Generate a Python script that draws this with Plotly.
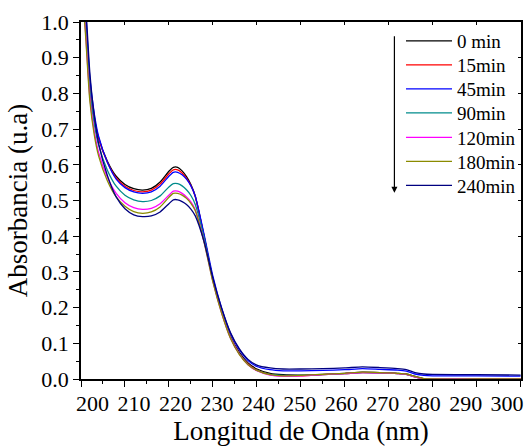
import plotly.graph_objects as go

wavelength = [200, 201, 202, 203, 204, 206, 208, 210, 212, 214, 216, 218, 220, 221, 222, 223, 224, 225, 226, 228,
              230, 232, 234, 236, 238, 240, 243, 246, 250, 255, 260, 264, 268, 272, 274, 276, 278, 280, 290, 300]

abs_0 = [1.15, 1.00, 0.82, 0.73, 0.675, 0.61, 0.568, 0.545, 0.533, 0.529, 0.534, 0.552, 0.582, 0.593, 0.593, 0.583, 0.567, 0.545, 0.512, 0.40,
         0.278, 0.19, 0.12, 0.075, 0.045, 0.028, 0.016, 0.012, 0.011, 0.013, 0.016, 0.019, 0.018, 0.016, 0.014, 0.007, 0.001, 0.0, 0.0, 0.0]
abs_15 = [1.17, 1.02, 0.83, 0.735, 0.675, 0.607, 0.563, 0.540, 0.528, 0.524, 0.529, 0.546, 0.575, 0.586, 0.586, 0.577, 0.562, 0.542, 0.511, 0.40,
          0.28, 0.19, 0.118, 0.072, 0.042, 0.025, 0.013, 0.009, 0.009, 0.012, 0.015, 0.018, 0.017, 0.015, 0.013, 0.006, 0.0, 0.0, 0.0, 0.0]
abs_45 = [1.19, 1.04, 0.845, 0.745, 0.68, 0.607, 0.56, 0.536, 0.524, 0.520, 0.524, 0.540, 0.568, 0.579, 0.579, 0.572, 0.560, 0.541, 0.512, 0.405,
          0.288, 0.198, 0.128, 0.082, 0.052, 0.035, 0.026, 0.023, 0.023, 0.024, 0.026, 0.029, 0.027, 0.025, 0.022, 0.014, 0.010, 0.009, 0.009, 0.008]
abs_90 = [1.16, 1.00, 0.81, 0.715, 0.655, 0.585, 0.54, 0.515, 0.502, 0.497, 0.500, 0.513, 0.538, 0.547, 0.547, 0.541, 0.530, 0.514, 0.489, 0.395,
          0.278, 0.188, 0.117, 0.071, 0.041, 0.024, 0.013, 0.010, 0.010, 0.012, 0.015, 0.018, 0.017, 0.015, 0.013, 0.006, 0.0, 0.0, 0.0, 0.0]
abs_120 = [1.14, 0.98, 0.79, 0.695, 0.635, 0.565, 0.52, 0.494, 0.480, 0.475, 0.478, 0.491, 0.515, 0.526, 0.526, 0.520, 0.510, 0.496, 0.474, 0.385,
           0.274, 0.185, 0.115, 0.070, 0.040, 0.023, 0.011, 0.008, 0.009, 0.012, 0.015, 0.018, 0.017, 0.015, 0.013, 0.006, 0.0, 0.0, 0.0, 0.0]
abs_180 = [1.13, 0.97, 0.78, 0.685, 0.625, 0.555, 0.51, 0.484, 0.469, 0.464, 0.468, 0.482, 0.509, 0.520, 0.520, 0.515, 0.506, 0.492, 0.471, 0.383,
           0.272, 0.184, 0.114, 0.069, 0.040, 0.024, 0.012, 0.009, 0.010, 0.013, 0.016, 0.019, 0.018, 0.016, 0.014, 0.007, 0.001, 0.0, 0.0, 0.0]
abs_240 = [1.20, 1.06, 0.86, 0.74, 0.66, 0.57, 0.51, 0.477, 0.460, 0.455, 0.457, 0.468, 0.491, 0.502, 0.502, 0.497, 0.489, 0.476, 0.457, 0.385,
           0.283, 0.198, 0.130, 0.085, 0.055, 0.039, 0.031, 0.028, 0.028, 0.029, 0.031, 0.034, 0.032, 0.029, 0.026, 0.018, 0.014, 0.013, 0.012, 0.011]

series_names = ["0 min", "15min", "45min", "90min", "120min", "180min", "240min"]
series_values = [abs_0, abs_15, abs_45, abs_90, abs_120, abs_180, abs_240]
series_colors = ["#000000", "#FF0000", "#0000FF", "#008B8B", "#FF00FF", "#8B8B00", "#000080"]

x_ticks = list(range(200, 301, 10))
x_ticklabels = [str(v) for v in x_ticks]
y_ticks = [round(i * 0.1, 1) for i in range(11)]
y_ticklabels = [f"{v:.1f}" for v in y_ticks]

FONT = "Liberation Serif, Times New Roman, DejaVu Serif, serif"

W, H = 528, 446
ML, MR, MT, MB = 81, 7, 22, 67
PH = H - MT - MB
PW = W - ML - MR
X_RANGE = [200, 300.1]
# the reference's tick labels are spaced slightly tighter than its ticks
X_LABEL_RANGE = [197.2, 303.35]
legend_centers_px = [41, 65, 89, 113, 137.5, 161.5, 185.5]
legend_left_px = 401

fig = go.Figure()
legends = {}
for i, (name, vals, col) in enumerate(zip(series_names, series_values, series_colors)):
    lname = "legend" if i == 0 else f"legend{i + 1}"
    fig.add_trace(go.Scatter(x=wavelength, y=vals, mode="lines", name=name, legend=lname,
                             line=dict(color=col, width=1.3, shape="spline", smoothing=0.6)))
    legends[lname] = dict(x=(legend_left_px - ML) / PW, y=(H - MB - legend_centers_px[i]) / PH,
                          xanchor="left", yanchor="middle", bgcolor="rgba(0,0,0,0)",
                          font=dict(size=19, family=FONT), itemwidth=46, borderwidth=0)

# empty helper traces so the overlay axes are always drawn
fig.add_trace(go.Scatter(x=[], y=[], xaxis="x2", yaxis="y2", showlegend=False, hoverinfo="skip"))
fig.add_trace(go.Scatter(x=[], y=[], xaxis="x3", yaxis="y", showlegend=False, hoverinfo="skip"))

axis_common = dict(showline=True, linecolor="black", linewidth=1.5, showgrid=False, zeroline=False)

fig.update_layout(
    width=W, height=H,
    margin=dict(l=ML, r=MR, t=MT, b=MB, autoexpand=False),
    plot_bgcolor="white", paper_bgcolor="white",
    font=dict(family=FONT, color="black"),
    xaxis=dict(range=X_RANGE, tickvals=x_ticks, ticks="outside", ticklen=6, tickwidth=1.2,
               tickcolor="black", mirror=True, showticklabels=False, automargin=False,
               minor=dict(dtick=5, tick0=200, ticks="outside", ticklen=3, tickwidth=1.2, tickcolor="black"),
               **axis_common),
    xaxis3=dict(overlaying="x", side="bottom", anchor="y", range=X_LABEL_RANGE, tickvals=x_ticks,
                ticktext=x_ticklabels, ticks="outside", ticklen=5, tickcolor="rgba(0,0,0,0)",
                showline=False, showgrid=False, zeroline=False, automargin=False,
                ticklabeloverflow="allow", tickfont=dict(size=22, family=FONT),
                title=dict(text="Longitud de Onda (nm)", font=dict(size=27, family=FONT), standoff=4)),
    yaxis=dict(range=[0, 1], tickvals=y_ticks, ticktext=y_ticklabels, ticks="outside", ticklen=6, tickwidth=1.2,
               tickcolor="black", mirror=True, automargin=False,
               minor=dict(dtick=0.05, tick0=0, ticks="outside", ticklen=3, tickwidth=1.2, tickcolor="black"),
               tickfont=dict(size=22, family=FONT),
               title=dict(text="Absorbancia (u.a)", font=dict(size=27, family=FONT), standoff=6),
               **axis_common),
    xaxis2=dict(overlaying="x", side="top", range=X_RANGE, tickvals=x_ticks, ticks="inside", ticklen=3,
                tickwidth=1.2, tickcolor="black", showticklabels=False, showgrid=False, zeroline=False,
                anchor="y2", automargin=False),
    yaxis2=dict(overlaying="y", side="right", range=[0, 1], tickvals=y_ticks, ticks="inside", ticklen=3,
                tickwidth=1.2, tickcolor="black", showticklabels=False, showgrid=False, zeroline=False,
                anchor="x2", automargin=False),
    showlegend=True,
    **legends,
)

fig.add_annotation(x=271.3, y=0.522, ax=271.3, ay=0.964, xref="x", yref="y", axref="x", ayref="y",
                   showarrow=True, arrowhead=2, arrowsize=1, arrowwidth=1.2, arrowcolor="black", text="")

fig.write_html("out.html")
